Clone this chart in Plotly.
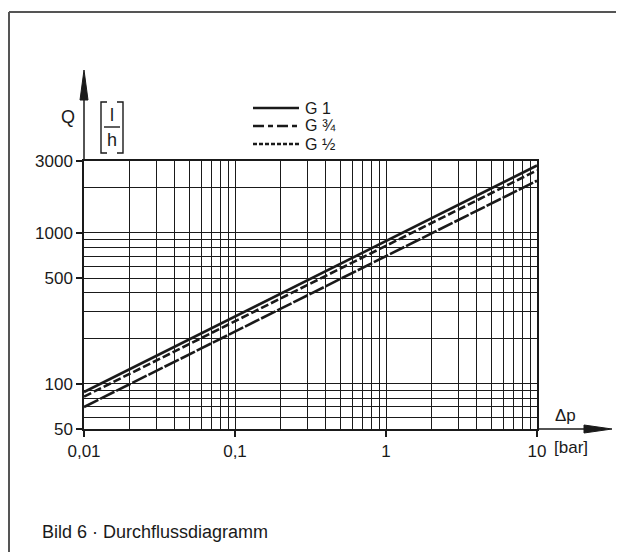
import plotly.graph_objects as go

# ---- data ----
dp_bar = [0.01, 0.1, 1, 10]
q_g1 = [88, 280, 880, 2800]
q_g34 = [82, 260, 815, 2600]
q_g12 = [70, 222, 700, 2220]
series_names = ["G 1", "G ¾", "G ½"]

x_tickvals = [0.01, 0.1, 1, 10]
x_ticktext = ["0,01", "0,1", "1", "10"]
x_minor = [m * d for d in (0.01, 0.1, 1) for m in range(2, 10)]
y_tickvals = [50, 100, 500, 1000, 3000]
y_ticktext = ["50", "100", "500", "1000", "3000"]
y_minor = [60, 70, 80, 90, 200, 300, 400, 600, 700, 800, 900, 2000]

# ---- layout geometry (page pixels; page body has an 8px margin) ----
OFF = 8
PAGE_W, PAGE_H = 624, 552
FW, FH = PAGE_W - OFF, PAGE_H - OFF
PL, PR, PT, PB = 84, 537, 161, 429  # plot area in page pixels
L, T = PL - OFF, PT - OFF
R, B = FW - (PR - OFF), FH - (PB - OFF)
PW, PH = PR - PL, PB - PT


def X(px):
    return (px - PL) / PW


def Y(py):
    return (PB - py) / PH


FONT = "Liberation Sans"
INK = "#1a1a1a"
plot_dash = ["solid", "8px,3px", "16px,2px"]
legend_dash = ["solid", "11px,4px,5px,4px", "4px,2px"]
series = [q_g1, q_g34, q_g12]

fig = go.Figure()
for name, vals, d in zip(series_names, series, plot_dash):
    fig.add_trace(go.Scatter(x=dp_bar, y=vals, mode="lines", name=name,
                             line=dict(color=INK, width=2.6, dash=d)))

shapes = []
annotations = []


def text(t, px, py, size=17, xanchor="center"):
    annotations.append(dict(text=t, x=X(px), y=Y(py), xref="paper", yref="paper", showarrow=False,
                            xanchor=xanchor, yanchor="middle",
                            font=dict(size=size, family=FONT, color=INK)))


# frame
shapes.append(dict(type="line", xref="paper", yref="paper", x0=X(9), x1=X(640), y0=Y(12), y1=Y(12),
                   line=dict(color="#555", width=2)))
shapes.append(dict(type="line", xref="paper", yref="paper", x0=X(9), x1=X(9), y0=Y(12), y1=Y(570),
                   line=dict(color="#555", width=2)))
# y axis arrow
shapes.append(dict(type="line", xref="paper", yref="paper", x0=0, x1=0, y0=1, y1=Y(98),
                   line=dict(color=INK, width=1.5)))
shapes.append(dict(type="path", xref="paper", yref="paper",
                   path=f"M {X(84)},{Y(70)} L {X(80)},{Y(100)} L {X(88)},{Y(100)} Z",
                   fillcolor=INK, line=dict(color=INK, width=1)))
# x axis arrow
shapes.append(dict(type="line", xref="paper", yref="paper", x0=1, x1=X(588), y0=0, y1=0,
                   line=dict(color=INK, width=1.5)))
shapes.append(dict(type="path", xref="paper", yref="paper",
                   path=f"M {X(612)},{Y(429)} L {X(584)},{Y(425)} L {X(584)},{Y(433)} Z",
                   fillcolor=INK, line=dict(color=INK, width=1)))
# unit bracket [l/h]
for xb, sgn in ((101, 1), (123, -1)):
    shapes.append(dict(type="path", xref="paper", yref="paper",
                       path=(f"M {X(xb + 6 * sgn)},{Y(102)} L {X(xb)},{Y(102)} "
                             f"L {X(xb)},{Y(153)} L {X(xb + 6 * sgn)},{Y(153)}"),
                       line=dict(color=INK, width=1.4)))
shapes.append(dict(type="line", xref="paper", yref="paper", x0=X(104), x1=X(120), y0=Y(127), y1=Y(127),
                   line=dict(color=INK, width=1.4)))

# legend (drawn by hand to match the reference layout)
for i, (name, d) in enumerate(zip(series_names, legend_dash)):
    yy = 108 + 18 * i
    shapes.append(dict(type="line", xref="paper", yref="paper", x0=X(253), x1=X(299), y0=Y(yy), y1=Y(yy),
                       line=dict(color=INK, width=2.4, dash=d)))
    text(name, 303, yy, size=16, xanchor="left")

text("Q", 68, 117, size=18)
text("l", 112, 115, size=18)
text("h", 112, 140, size=18)
text("Δp", 565, 415, size=17)
text("[bar]", 552, 447, size=17, xanchor="left")
text("Bild 6 · Durchflussdiagramm", 40, 532, size=18, xanchor="left")

grid = dict(showgrid=True, gridcolor=INK, gridwidth=1)

fig.update_layout(
    width=FW, height=FH,
    margin=dict(l=L, r=R, t=T, b=B),
    paper_bgcolor="white", plot_bgcolor="white",
    font=dict(family=FONT, size=17, color=INK),
    showlegend=False,
    shapes=shapes,
    annotations=annotations,
    xaxis=dict(type="log", range=[-2, 1], tickvals=x_tickvals, ticktext=x_ticktext,
               ticks="outside", ticklen=6, tickwidth=1.5, tickcolor=INK,
               showline=True, linecolor=INK, linewidth=1.5, mirror=True,
               minor=dict(tickvals=x_minor, showgrid=True, gridcolor=INK, gridwidth=1, ticks=""),
               zeroline=False, **grid),
    yaxis=dict(type="log", range=[1.69897, 3.4771213], tickvals=y_tickvals, ticktext=y_ticktext,
               ticks="outside", ticklen=6, tickwidth=1.5, tickcolor=INK,
               showline=True, linecolor=INK, linewidth=1.5, mirror=True,
               minor=dict(tickvals=y_minor, showgrid=True, gridcolor=INK, gridwidth=1, ticks=""),
               zeroline=False, **grid),
)

fig.write_html("out.html")
